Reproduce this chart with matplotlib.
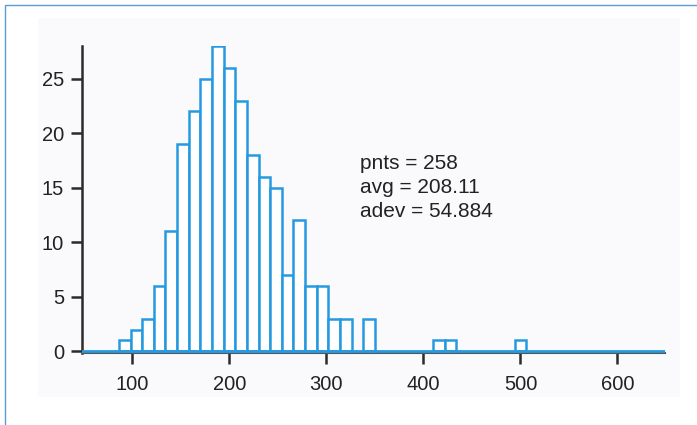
import matplotlib
matplotlib.use("Agg")
import matplotlib.pyplot as plt
from matplotlib.patches import Rectangle

# ---- data ----
bin_start = 86
bin_width = 12
counts = [1, 2, 3, 6, 11, 19, 22, 25, 28, 26, 23, 18, 16, 15, 7, 12, 6, 6, 3, 3, 0, 3,
          0, 0, 0, 0, 0, 1, 1, 0, 0, 0, 0, 0, 1]
stats_lines = ["pnts = 258", "avg = 208.11", "adev = 54.884"]
x_ticks = [100, 200, 300, 400, 500, 600]
y_ticks = [0, 5, 10, 15, 20, 25]

blue = "#259ae0"
dark = "#2b2b2b"

plt.rcParams['font.family'] = ['Liberation Sans', 'DejaVu Sans']

W, H = 697, 425
fig = plt.figure(figsize=(W / 100, H / 100), dpi=100)
fig.patch.set_facecolor("white")

# light panel and outer blue frame
fig.patches.append(Rectangle((38 / W, 1 - 397 / H), (680 - 38) / W, (397 - 18) / H,
                             transform=fig.transFigure, facecolor="#fafafd",
                             edgecolor="none", zorder=-2))
fig.patches.append(Rectangle((5 / W, -0.5), 1.2, 1.5 - 4.7 / H,
                             transform=fig.transFigure, facecolor="none",
                             edgecolor="#5b9bd8", linewidth=1.0, zorder=-1))

ax = fig.add_axes([82 / W, 1 - 353 / H, (665 - 82) / W, (353 - 46) / H])
ax.set_zorder(5)
ax.set_facecolor("none")

lefts = [bin_start + i * bin_width for i, c in enumerate(counts) if c > 0]
heights = [c for c in counts if c > 0]
ax.bar(lefts, heights, width=bin_width, align="edge", facecolor="white",
       edgecolor=blue, linewidth=1.8, zorder=3)
ax.axhline(0, color=blue, linewidth=2.0, zorder=4)

ax.set_xlim(48, 649)
ax.set_ylim(-0.15, 28)

ax.spines["top"].set_visible(False)
ax.spines["right"].set_visible(False)
ax.spines["left"].set_color(dark)
ax.spines["left"].set_linewidth(1.8)
ax.spines["bottom"].set_color("#555555")
ax.spines["bottom"].set_linewidth(1.5)

ax.set_xticks(x_ticks)
ax.set_yticks(y_ticks)
ax.tick_params(axis="x", direction="out", length=8, width=1.8, color=dark,
               pad=8, labelsize=14.5, labelcolor="#222222")
ax.tick_params(axis="y", direction="out", length=8, width=1.8, color=dark,
               pad=5, labelsize=14.5, labelcolor="#222222")

text_y = [16.76, 14.53, 12.33]
for s, ty in zip(stats_lines, text_y):
    ax.text(334.5, ty, s, fontsize=15, color="#222222", va="baseline", ha="left")

fig.savefig("out.png", dpi=100)
